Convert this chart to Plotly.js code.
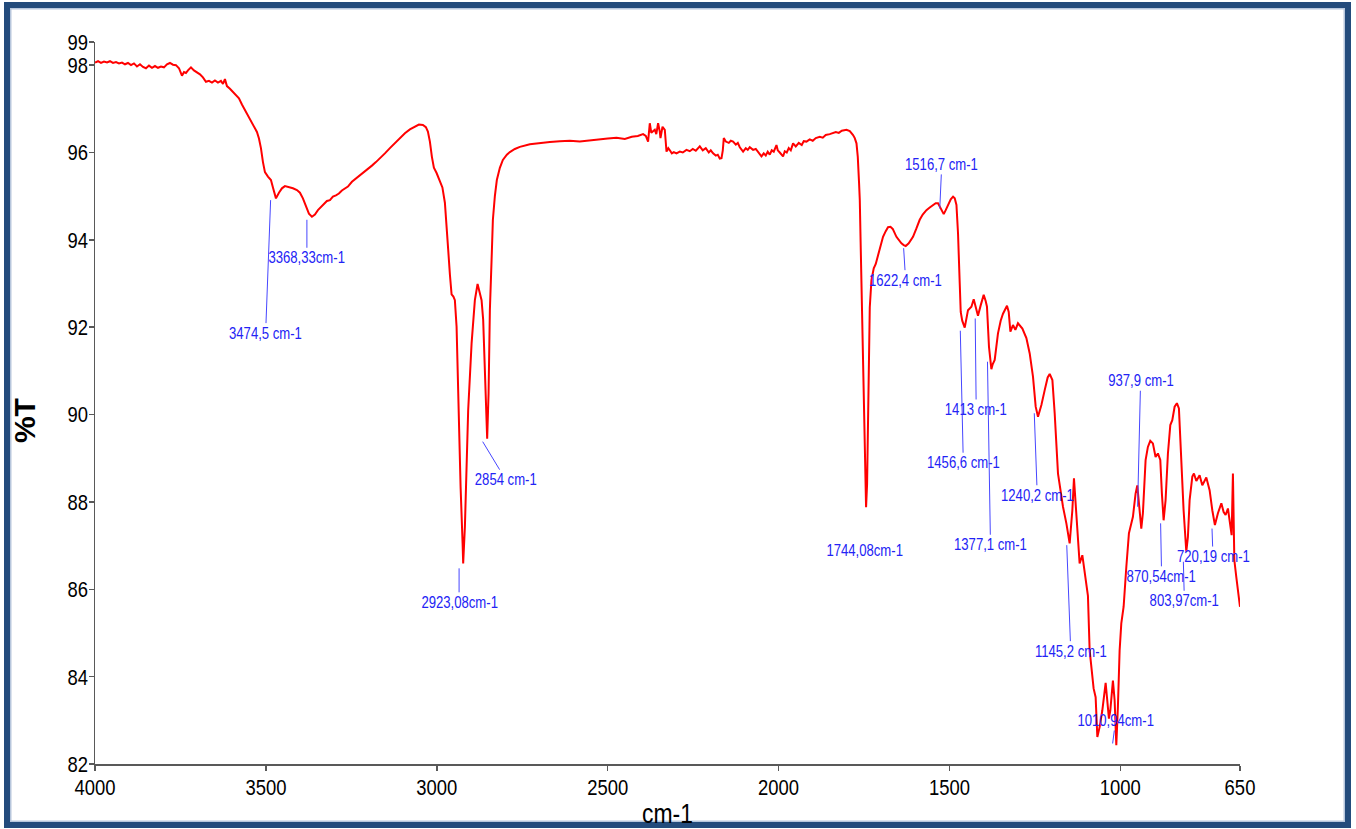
<!DOCTYPE html>
<html>
<head>
<meta charset="utf-8">
<script src="https://cdn.plot.ly/plotly-3.0.1.min.js"></script>
<style>
  html, body { margin: 0; padding: 0; background: #ffffff; }
  #wrap { position: relative; width: 1356px; height: 829px; overflow: hidden; background: #ffffff; }
  #chart { position: absolute; left: 0; top: 0; width: 1356px; height: 829px; }
  #frame {
    position: absolute; left: 4px; top: 2px; width: 1347px; height: 826px;
    box-sizing: border-box; border: 6px solid #234b7c;
    box-shadow: inset 0 0 0 1.5px #b7c6dc;
  }
</style>
</head>
<body>
<div id="wrap">
  <div id="frame"></div>
  <div id="chart"></div>
</div>
<script>
// FTIR spectrum: wavenumber (cm-1) against transmittance (%T)
const wavenumber = [
  4000, 3991.2, 3982.5, 3973.7, 3964.9, 3956.1, 3947.4, 3938.6, 3929.8, 3921.0,
  3912.3, 3903.5, 3894.7, 3886.0, 3877.2, 3868.4, 3859.6, 3850.9, 3842.1, 3833.3,
  3824.5, 3815.8, 3807.0, 3798.2, 3789.4, 3780.7, 3771.9, 3763.1, 3754.3, 3745.6,
  3739.7, 3733.9, 3728.0, 3719.2, 3710.5, 3701.7, 3692.9, 3684.2, 3675.4, 3666.6,
  3657.8, 3649.1, 3640.3, 3631.5, 3625.6, 3619.8, 3614.0, 3605.2, 3596.4, 3587.6,
  3578.8, 3570.1, 3561.3, 3552.5, 3543.8, 3535.0, 3526.2, 3520.3, 3514.5, 3508.6,
  3502.8, 3494.0, 3485.2, 3479.4, 3470.6, 3461.8, 3453.1, 3444.3, 3432.6, 3420.9,
  3409.2, 3400.4, 3391.7, 3382.9, 3374.1, 3365.3, 3356.6, 3347.8, 3339.0, 3330.2,
  3321.5, 3312.7, 3303.9, 3295.1, 3286.4, 3277.6, 3268.8, 3260.0, 3248.3, 3236.6,
  3224.9, 3213.2, 3201.5, 3189.8, 3178.1, 3166.4, 3151.8, 3137.2, 3122.6, 3107.9,
  3093.3, 3078.7, 3064.0, 3052.3, 3040.6, 3031.9, 3026.0, 3020.2, 3014.3, 3008.5,
  3000.6, 2990.9, 2983.6, 2976.3, 2970.4, 2966.6, 2961.6, 2956.7, 2951.4, 2947.1,
  2942.1, 2937.4, 2930.4, 2924.5, 2922.8, 2917.8, 2908.2, 2898.2, 2888.6, 2880.7,
  2875.4, 2869.0, 2864.3, 2859.3, 2852.6, 2848.5, 2844.7, 2839.7, 2835.9, 2830.1,
  2824.3, 2815.5, 2806.7, 2795.0, 2786.2, 2771.6, 2757.0, 2727.7, 2698.5, 2669.2,
  2640.0, 2610.7, 2581.5, 2552.3, 2523.0, 2499.6, 2474.2, 2449.9, 2429.5, 2411.9,
  2396.4, 2388.5, 2381.8, 2376.8, 2372.4, 2367.2, 2362.2, 2357.8, 2352.5, 2347.6,
  2345.5, 2339.6, 2332.9, 2327.9, 2322.7, 2318.2, 2312.4, 2306.5, 2298.7, 2289.0,
  2280.3, 2269.5, 2259.8, 2251.0, 2242.2, 2230.5, 2221.8, 2213.0, 2204.2, 2198.4,
  2191.6, 2183.7, 2177.9, 2172.0, 2167.0, 2163.2, 2160.3, 2154.4, 2145.7, 2139.8,
  2133.1, 2125.2, 2119.3, 2113.5, 2103.8, 2095.9, 2090.1, 2084.3, 2074.6, 2066.7,
  2057.9, 2050.1, 2043.4, 2037.5, 2031.7, 2025.8, 2020.0, 2014.1, 2006.2, 2002.4,
  1996.5, 1990.7, 1986.9, 1981.9, 1976.1, 1970.2, 1964.3, 1957.6, 1949.7, 1940.9,
  1932.2, 1926.3, 1918.4, 1908.8, 1900.0, 1891.2, 1879.5, 1870.7, 1862.0, 1850.3,
  1840.5, 1832.6, 1823.8, 1815.1, 1801.3, 1791.7, 1782.1, 1777.1, 1772.1, 1768.3,
  1764.5, 1762.4, 1759.5, 1756.6, 1753.7, 1750.8, 1747.8, 1744.0, 1741.1, 1738.2,
  1735.3, 1733.2, 1728.3, 1721.6, 1715.7, 1709.0, 1701.1, 1694.4, 1686.5, 1679.8,
  1672.7, 1666.0, 1655.2, 1648.5, 1640.6, 1633.9, 1628.0, 1619.3, 1606.7, 1597.3,
  1587.1, 1578.3, 1567.5, 1557.8, 1548.2, 1540.3, 1533.5, 1526.5, 1521.2, 1516.8,
  1511.0, 1504.2, 1496.3, 1489.6, 1484.6, 1479.6, 1475.0, 1470.0, 1467.1, 1462.7,
  1455.4, 1445.8, 1435.8, 1429.1, 1423.3, 1416.6, 1408.7, 1399.9, 1394.1, 1390.3,
  1384.4, 1377.4, 1373.6, 1367.7, 1358.1, 1350.2, 1343.4, 1331.7, 1326.7, 1321.8,
  1314.2, 1307.2, 1299.6, 1293.1, 1286.7, 1275.0, 1265.3, 1255.7, 1247.8, 1241.0,
  1231.1, 1221.4, 1212.7, 1206.8, 1198.9, 1192.2, 1182.5, 1167.9, 1158.0, 1148.4,
  1140.5, 1135.8, 1128.8, 1119.2, 1111.3, 1101.6, 1094.9, 1089.9, 1085.0, 1078.3,
  1072.4, 1067.4, 1060.6, 1052.8, 1043.1, 1039.3, 1033.5, 1029.4, 1021.8, 1016.8,
  1011.9, 1007.2, 1002.2, 997.3, 990.5, 982.6, 975.0, 963.3, 955.5, 950.5,
  945.8, 938.8, 934.1, 926.2, 919.5, 912.5, 904.9, 897.0, 890.2, 883.2,
  878.5, 873.5, 867.7, 860.9, 853.9, 848.1, 841.3, 834.6, 828.7, 821.7,
  815.0, 807.1, 802.4, 797.4, 789.5, 784.8, 777.8, 768.2, 760.3, 748.6,
  738.9, 731.0, 723.4, 714.6, 704.6, 697.9, 692.1, 685.3, 680.4, 674.5,
  670.7, 666.6, 660.8, 650
];

const transmittance = [
  98.06, 98.09, 98.05, 98.08, 98.06, 98.09, 98.05, 98.07, 98.04, 98.06,
  98.02, 98.05, 98.00, 98.04, 97.97, 98.02, 97.96, 97.93, 97.99, 97.94,
  97.98, 97.94, 97.97, 97.95, 98.02, 98.05, 98.01, 98.00, 97.93, 97.76,
  97.84, 97.82, 97.88, 97.95, 97.88, 97.84, 97.79, 97.72, 97.62, 97.64,
  97.60, 97.65, 97.60, 97.64, 97.57, 97.68, 97.52, 97.46, 97.38, 97.30,
  97.24, 97.10, 96.98, 96.85, 96.74, 96.62, 96.47, 96.32, 96.10, 95.78,
  95.55, 95.45, 95.37, 95.20, 94.95, 95.08, 95.18, 95.23, 95.21, 95.18,
  95.14, 95.08, 94.95, 94.78, 94.60, 94.53, 94.58, 94.68, 94.75, 94.80,
  94.89, 94.91, 94.99, 95.02, 95.06, 95.13, 95.18, 95.22, 95.33, 95.40,
  95.48, 95.55, 95.62, 95.70, 95.78, 95.86, 95.98, 96.10, 96.22, 96.33,
  96.44, 96.53, 96.60, 96.64, 96.63, 96.58, 96.48, 96.25, 95.90, 95.65,
  95.53, 95.33, 95.20, 94.85, 94.30, 93.77, 93.20, 92.75, 92.70, 92.62,
  92.01, 90.49, 88.35, 87.05, 86.59, 87.43, 90.10, 91.63, 92.62, 92.99,
  92.82, 92.62, 92.17, 90.87, 89.45, 90.49, 92.39, 93.54, 94.46, 95.00,
  95.37, 95.65, 95.83, 95.95, 96.01, 96.08, 96.13, 96.19, 96.22, 96.24,
  96.26, 96.27, 96.25, 96.28, 96.30, 96.32, 96.34, 96.31, 96.36, 96.38,
  96.42, 96.38, 96.25, 96.67, 96.45, 96.48, 96.52, 96.42, 96.67, 96.48,
  96.33, 96.59, 96.52, 96.02, 96.10, 96.05, 95.98, 96.01, 95.98, 96.02,
  96.00, 96.06, 96.03, 96.08, 96.04, 96.14, 96.05, 96.10, 96.00, 96.05,
  95.98, 95.93, 95.95, 95.86, 95.87, 96.05, 96.33, 96.25, 96.22, 96.27,
  96.25, 96.18, 96.22, 96.12, 96.02, 96.10, 96.06, 96.12, 96.06, 96.08,
  96.00, 95.91, 95.98, 95.93, 96.02, 95.95, 96.05, 96.02, 96.17, 96.05,
  96.00, 95.95, 95.91, 96.03, 96.00, 96.10, 96.05, 96.21, 96.14, 96.22,
  96.17, 96.26, 96.25, 96.30, 96.27, 96.33, 96.36, 96.34, 96.40, 96.42,
  96.44, 96.47, 96.45, 96.50, 96.52, 96.49, 96.40, 96.33, 96.21, 95.90,
  95.30, 94.91, 93.77, 92.70, 91.48, 90.10, 88.73, 87.88, 88.40, 89.60,
  91.40, 92.45, 93.08, 93.35, 93.45, 93.65, 93.90, 94.07, 94.20, 94.29,
  94.30, 94.25, 94.07, 94.00, 93.92, 93.88, 93.86, 93.92, 94.07, 94.25,
  94.46, 94.58, 94.68, 94.74, 94.80, 94.84, 94.84, 94.72, 94.65, 94.59,
  94.68, 94.80, 94.93, 94.99, 94.95, 94.80, 94.15, 93.00, 92.35, 92.15,
  91.99, 92.39, 92.47, 92.64, 92.45, 92.26, 92.50, 92.74, 92.60, 92.47,
  91.55, 91.04, 91.15, 91.25, 91.86, 92.15, 92.31, 92.49, 92.35, 91.90,
  92.05, 91.94, 92.09, 92.03, 91.97, 91.75, 91.40, 90.87, 90.18, 89.95,
  90.22, 90.56, 90.85, 90.93, 90.79, 90.03, 88.65, 87.89, 87.51, 87.05,
  87.81, 88.54, 87.74, 86.59, 86.78, 86.28, 85.85, 84.60, 84.15, 83.73,
  83.53, 82.62, 82.85, 83.23, 83.86, 83.53, 83.04, 83.23, 83.91, 83.46,
  82.43, 83.31, 84.60, 85.22, 85.60, 86.51, 87.28, 87.66, 88.19, 88.38,
  88.04, 87.39, 87.74, 88.96, 89.26, 89.40, 89.34, 89.03, 89.11, 88.96,
  88.19, 87.58, 88.04, 89.11, 89.76, 89.87, 90.18, 90.26, 90.14, 88.96,
  87.81, 86.86, 87.20, 88.04, 88.58, 88.65, 88.48, 88.61, 88.38, 88.56,
  88.27, 87.81, 87.47, 87.74, 87.97, 87.77, 87.70, 87.85, 87.62, 87.24,
  88.65, 86.67, 86.28, 85.60
];

// Assigned band positions and their labels
const peakWavenumber = [3474.5, 3368.33, 2923.08, 2854, 1744.08, 1622.4, 1516.7, 1456.6,
                        1413, 1377.1, 1240.2, 1145.2, 1010.94, 937.9, 870.54, 803.97, 720.19];
const peakLabel = ['3474,5 cm-1', '3368,33cm-1', '2923,08cm-1', '2854 cm-1', '1744,08cm-1',
                   '1622,4 cm-1', '1516,7 cm-1', '1456,6 cm-1', '1413 cm-1', '1377,1 cm-1',
                   '1240,2 cm-1', '1145,2 cm-1', '1010,94cm-1', '937,9 cm-1', '870,54cm-1',
                   '803,97cm-1', '720,19 cm-1'];

// Axis ticks
const xTickValues = [4000, 3500, 3000, 2500, 2000, 1500, 1000, 650];
const yTickValues = [82, 84, 86, 88, 90, 92, 94, 96, 98];
const yTopLabel = '99';

// Leader-line placement: tip height (%T) and label offset (px) from the tip
const leaderTip = [94.91, 94.46, 86.48, 89.38, 87.81, 93.81, 94.72, 91.92,
                   92.20, 91.21, 90.03, 87.01, 82.47, 87.89, 87.51, 86.63, 87.39];
const labelDx = [-5, 0, 0, 23, 2, 2, 2, 3, 1, 3, 3, 4, 3, 3, 1, 1, 1];
const labelDy = [133, 38, 34, 38, 40, 32, -44, 132, 91, 183, 82, 106, -23, -126, 53, 39, 28];

const FONT = '"Liberation Sans", Arial, sans-serif';
const NARROW = 0.82;          // horizontal squeeze giving a narrow face
const Y_TOP = 98.53;

const annotations = peakWavenumber.map((wn, i) => ({
  x: wn, y: leaderTip[i], xref: 'x', yref: 'y',
  text: peakLabel[i],
  showarrow: true, arrowhead: 0, arrowwidth: 1, arrowcolor: '#4646ff',
  ax: labelDx[i], ay: labelDy[i], xshift: -4,
  font: { family: FONT, size: 16, color: '#2323f5' }
}));

annotations.push({
  xref: 'paper', yref: 'paper', x: -0.062, y: 0.475,
  xanchor: 'center', yanchor: 'middle', textangle: -90, showarrow: false,
  text: '<b>%T</b>', font: { family: FONT, size: 30, color: '#000000' }
});

const trace = {
  x: wavenumber, y: transmittance, type: 'scatter', mode: 'lines',
  line: { color: '#ff0000', width: 2 }, hoverinfo: 'x+y'
};

const axisCommon = {
  showgrid: false, zeroline: false, showline: true,
  linecolor: '#595959', linewidth: 1.5,
  ticks: 'outside', ticklen: 5, tickwidth: 1.5, tickcolor: '#595959',
  tickfont: { family: FONT, size: 22.5, color: '#000000' }
};

const layout = {
  width: 1356, height: 829,
  margin: { l: 95, r: 116, t: 42, b: 65 },
  paper_bgcolor: 'rgba(0,0,0,0)', plot_bgcolor: 'rgba(0,0,0,0)',
  showlegend: false,
  xaxis: Object.assign({}, axisCommon, {
    range: [4000, 650], autorange: false,
    tickmode: 'array', tickvals: xTickValues,
    ticktext: xTickValues.map(String),
    title: { text: 'cm-1', font: { family: FONT, size: 28, color: '#000000' }, standoff: 6 }
  }),
  yaxis: Object.assign({}, axisCommon, {
    range: [82, Y_TOP], autorange: false,
    tickmode: 'array', tickvals: yTickValues.concat([Y_TOP]),
    ticktext: yTickValues.map(String).concat([yTopLabel])
  }),
  annotations: annotations
};

// Squeeze each text horizontally about its own anchor point (narrow typeface look);
// tick labels are also drawn a little closer to their axis.
function narrowText(gd) {
  gd.querySelectorAll('svg text').forEach(t => {
    if (t.textContent === '%T') return;
    const x = parseFloat(t.getAttribute('x')) || 0;
    const y = parseFloat(t.getAttribute('y')) || 0;
    let shift = '';
    if (t.closest('.ytick')) shift = ' translate(4,0)';
    else if (t.closest('.xtick')) shift = ' translate(0,-2)';
    const base = t.getAttribute('transform') || '';
    t.setAttribute('transform',
      `${base}${shift} translate(${x},${y}) scale(${NARROW},1) translate(${-x},${-y})`);
  });
}

Plotly.newPlot('chart', [trace], layout, { staticPlot: true, displayModeBar: false })
  .then(gd => narrowText(gd));
</script>
</body>
</html>
